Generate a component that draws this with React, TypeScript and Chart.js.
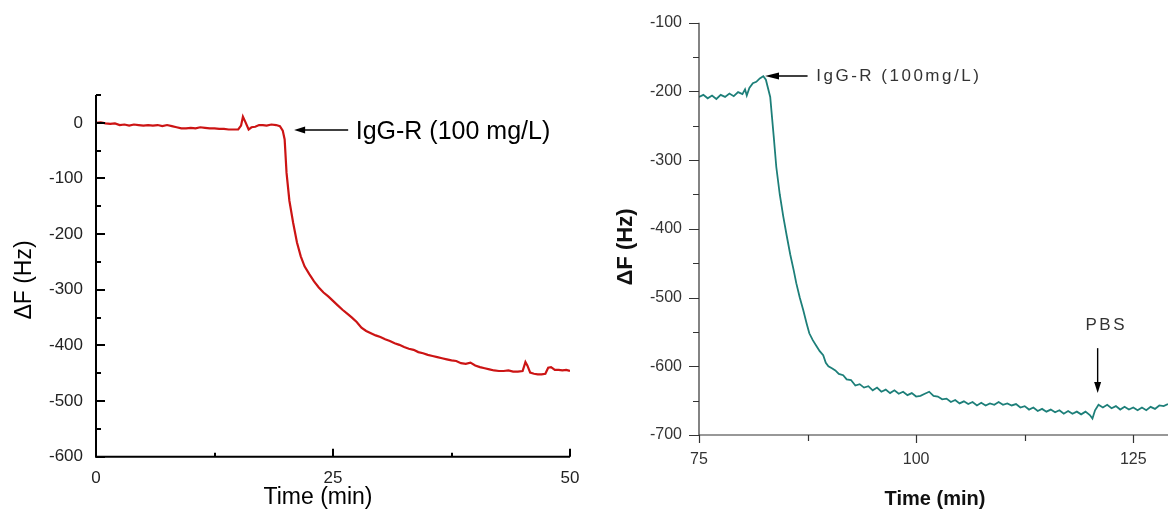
import React, { useEffect, useRef } from 'react';
import { Chart, registerables } from 'chart.js';
Chart.register(...registerables);

// ---------- Left panel data (red trace) ----------
const leftTime = [
  0, 0.5, 1, 1.5, 2, 2.5, 3, 3.5, 4, 4.5, 5, 5.5, 6, 6.5, 7, 7.5, 8, 8.5, 9, 9.5,
  10, 10.5, 11, 11.5, 12, 12.5, 13, 13.5, 14, 14.5, 15, 15.3, 15.5, 15.8, 16.1, 16.4, 16.8, 17.2, 17.6, 18,
  18.5, 19, 19.4, 19.7, 19.9, 20.1, 20.4, 20.8, 21.2, 21.6, 22, 22.5, 23, 23.5, 24, 24.5, 25, 25.5, 26, 26.5,
  27, 27.5, 28, 28.5, 29, 29.5, 30, 30.5, 31, 31.5, 32, 32.5, 33, 33.5, 34, 34.5, 35, 35.5, 36, 36.5,
  37, 37.5, 38, 38.5, 39, 39.5, 40, 40.5, 41, 41.5, 42, 42.5, 43, 43.5, 44, 44.5, 45, 45.3, 45.5, 45.8,
  46.2, 46.6, 47, 47.4, 47.7, 48, 48.4, 48.8, 49.2, 49.6, 50,
];
const leftDF = [
  0, 1, -1, -2, -1, -4, -3, -5, -3, -4, -5, -4, -5, -4, -6, -4, -6, -8, -10, -10,
  -9, -10, -8, -9, -10, -10, -11, -11, -12, -12, -12, -5, 11, 0, -12, -8, -7, -4, -4, -5,
  -3, -4, -6, -14, -30, -90, -140, -180, -215, -240, -258, -272, -285, -296, -305, -312, -320, -328, -336, -343,
  -350, -358, -368, -374, -378, -382, -385, -389, -392, -396, -399, -403, -406, -408, -412, -414, -417, -419, -421, -423,
  -425, -427, -428, -432, -433, -431, -436, -439, -441, -443, -445, -446, -446, -445, -447, -447, -446, -430, -436, -449,
  -451, -452, -452, -451, -440, -439, -444, -444, -445, -444, -446,
];

// ---------- Right panel data (teal trace) ----------
const rightTime = [
  75, 75.5, 76, 76.5, 77, 77.5, 78, 78.5, 79, 79.5, 80, 80.3, 80.5, 80.8, 81.2, 81.6, 82, 82.4, 82.7, 83.2,
  83.6, 83.9, 84.3, 84.7, 85.1, 85.5, 85.9, 86.2, 86.6, 87, 87.4, 87.7, 88.1, 88.5, 88.9, 89.3, 89.6, 89.9, 90.3, 90.7,
  91.1, 91.6, 92, 92.5, 93, 93.5, 94, 94.5, 95, 95.5, 96, 96.5, 97, 97.5, 98, 98.5, 99, 99.5, 100, 100.5,
  101, 101.5, 102, 102.5, 103, 103.5, 104, 104.5, 105, 105.5, 106, 106.5, 107, 107.5, 108, 108.5, 109, 109.5, 110, 110.5,
  111, 111.5, 112, 112.5, 113, 113.5, 114, 114.5, 115, 115.5, 116, 116.5, 117, 117.5, 118, 118.5, 119, 119.5, 120, 120.3,
  120.6, 121, 121.5, 122, 122.5, 123, 123.5, 124, 124.5, 125, 125.5, 126, 126.5, 127, 127.5, 128, 128.5, 129,
];
const rightDF = [
  -208, -205, -210, -206, -211, -205, -208, -203, -207, -201, -204, -197, -206, -195, -188, -186, -181, -178, -183, -208,
  -265, -310, -350, -382, -410, -437, -460, -479, -500, -518, -538, -552, -562, -570, -578, -584, -595, -600, -603, -606,
  -611, -613, -619, -620, -628, -626, -631, -629, -635, -631, -637, -634, -639, -635, -640, -637, -642, -639, -644, -643,
  -640, -637, -643, -644, -648, -647, -652, -649, -654, -651, -655, -652, -657, -653, -657, -654, -656, -652, -656, -654,
  -657, -655, -660, -658, -663, -660, -665, -662, -666, -663, -667, -664, -669, -665, -669, -666, -670, -666, -671, -676,
  -664, -656, -660, -656, -661, -658, -663, -659, -663, -660, -664, -660, -664, -659, -662, -657, -658, -655,
];

// ---------- Tick labels ----------
const leftXTicks = [0, 25, 50];
const leftYTicks = [-600, -500, -400, -300, -200, -100, 0];
const rightXTicks = [75, 100, 125];
const rightYTicks = [-700, -600, -500, -400, -300, -200, -100];

const FONT = '"Liberation Sans", Arial, sans-serif';

function arrowHead(ctx: CanvasRenderingContext2D, tx: number, ty: number, dir: 'left' | 'down', len: number, half: number) {
  ctx.beginPath();
  if (dir === 'left') {
    ctx.moveTo(tx, ty);
    ctx.lineTo(tx + len, ty - half);
    ctx.lineTo(tx + len, ty + half);
  } else {
    ctx.moveTo(tx, ty);
    ctx.lineTo(tx - half, ty - len);
    ctx.lineTo(tx + half, ty - len);
  }
  ctx.closePath();
  ctx.fill();
}

const leftDecor = {
  id: 'leftDecor',
  afterDraw(chart: any) {
    const { ctx, chartArea: a, scales } = chart;
    const x = scales.x, y = scales.y;
    ctx.save();
    ctx.strokeStyle = '#000';
    ctx.lineWidth = 2;
    ctx.beginPath();
    ctx.moveTo(a.left, a.top);
    ctx.lineTo(a.left, a.bottom);
    ctx.lineTo(a.right, a.bottom);
    for (let v = -600; v <= 50; v += 50) {
      const py = Math.round(y.getPixelForValue(v));
      const len = v % 100 === 0 ? 9 : 5;
      ctx.moveTo(a.left, py);
      ctx.lineTo(a.left + len, py);
    }
    for (let v = 0; v <= 50; v += 12.5) {
      const px = Math.round(x.getPixelForValue(v));
      const len = v % 25 === 0 ? 8 : 4;
      ctx.moveTo(px, a.bottom);
      ctx.lineTo(px, a.bottom - len);
    }
    ctx.stroke();

    // axis titles
    ctx.fillStyle = '#000';
    ctx.font = `23px ${FONT}`;
    ctx.textAlign = 'center';
    ctx.textBaseline = 'middle';
    ctx.fillText('Time (min)', 318, 498);
    ctx.save();
    ctx.translate(25, 280);
    ctx.rotate(-Math.PI / 2);
    ctx.fillText('\u0394F (Hz)', 0, 0);
    ctx.restore();

    // annotation
    const ay = y.getPixelForValue(-13);
    const tip = x.getPixelForValue(20.9);
    const tail = x.getPixelForValue(26.6);
    ctx.lineWidth = 1.5;
    ctx.beginPath();
    ctx.moveTo(tip + 6, ay);
    ctx.lineTo(tail, ay);
    ctx.stroke();
    arrowHead(ctx, tip, ay, 'left', 11, 3.5);
    ctx.font = `25px ${FONT}`;
    ctx.textAlign = 'left';
    ctx.fillText('IgG-R (100 mg/L)', x.getPixelForValue(27.4), ay + 2);
    ctx.restore();
  },
};

const rightDecor = {
  id: 'rightDecor',
  afterDraw(chart: any) {
    const { ctx, chartArea: a, scales } = chart;
    const x = scales.x, y = scales.y;
    ctx.save();
    ctx.strokeStyle = '#333';
    ctx.lineWidth = 1.2;
    ctx.beginPath();
    ctx.moveTo(a.left, a.top);
    ctx.lineTo(a.left, a.bottom);
    ctx.lineTo(a.right, a.bottom);
    for (let v = -700; v <= -100; v += 50) {
      const py = Math.round(y.getPixelForValue(v)) + 0.5;
      const len = v % 100 === 0 ? 10 : 6;
      ctx.moveTo(a.left, py);
      ctx.lineTo(a.left - len, py);
    }
    for (let v = 75; v <= 129; v += 12.5) {
      const px = Math.round(x.getPixelForValue(v)) + 0.5;
      const len = (v - 75) % 25 === 0 ? 8 : 6;
      ctx.moveTo(px, a.bottom);
      ctx.lineTo(px, a.bottom + len);
    }
    ctx.stroke();

    ctx.fillStyle = '#111';
    ctx.font = `bold 20px ${FONT}`;
    ctx.textAlign = 'center';
    ctx.textBaseline = 'middle';
    ctx.fillText('Time (min)', 351, 499);
    ctx.save();
    ctx.translate(42, 247);
    ctx.rotate(-Math.PI / 2);
    ctx.font = `bold 22px ${FONT}`;
    ctx.fillText('\u0394F (Hz)', 0, 0);
    ctx.restore();

    // IgG-R annotation
    ctx.fillStyle = '#000';
    ctx.strokeStyle = '#000';
    ctx.lineWidth = 1.4;
    const ay = y.getPixelForValue(-177.6);
    const tip = x.getPixelForValue(82.6);
    const tail = x.getPixelForValue(87.5);
    ctx.beginPath();
    ctx.moveTo(tip + 8, ay);
    ctx.lineTo(tail, ay);
    ctx.stroke();
    arrowHead(ctx, tip, ay, 'left', 14, 3.5);
    ctx.fillStyle = '#333';
    ctx.font = `17px ${FONT}`;
    ctx.textAlign = 'left';
    (ctx as any).letterSpacing = '2.5px';
    ctx.fillText('IgG-R (100mg/L)', x.getPixelForValue(88.5), ay);

    // PBS annotation
    ctx.fillText('PBS', x.getPixelForValue(119.5), y.getPixelForValue(-540));
    (ctx as any).letterSpacing = '0px';
    ctx.fillStyle = '#000';
    const px = x.getPixelForValue(120.9);
    const top = y.getPixelForValue(-573.6);
    const bot = y.getPixelForValue(-639);
    ctx.beginPath();
    ctx.moveTo(px, top);
    ctx.lineTo(px, bot - 8);
    ctx.stroke();
    arrowHead(ctx, px, bot, 'down', 11, 3.5);
    ctx.restore();
  },
};

function makeTicks(values: number[]) {
  return (scale: any) => {
    scale.ticks = values.map((v) => ({ value: v }));
  };
}

function fitX(h: number) {
  return (s: any) => {
    s.height = h;
    s.paddingLeft = 0;
    s.paddingRight = 0;
  };
}

function fitY(w: number) {
  return (s: any) => {
    s.width = w;
    s.paddingTop = 0;
    s.paddingBottom = 0;
  };
}

export default function App() {
  const leftRef = useRef<HTMLCanvasElement>(null);
  const rightRef = useRef<HTMLCanvasElement>(null);

  useEffect(() => {
    const left = new Chart(leftRef.current!, {
      type: 'line',
      data: {
        datasets: [
          {
            data: leftTime.map((t, i) => ({ x: t, y: leftDF[i] })),
            borderColor: '#cc1414',
            borderWidth: 2.2,
            pointRadius: 0,
            tension: 0,
            fill: false,
          },
        ],
      },
      options: {
        animation: false,
        responsive: false,
        maintainAspectRatio: false,
        layout: { padding: { left: 0, right: 14, top: 95, bottom: 0 } },
        plugins: { legend: { display: false }, tooltip: { enabled: false } },
        scales: {
          x: {
            type: 'linear',
            min: 0,
            max: 50,
            afterBuildTicks: makeTicks(leftXTicks),
            afterFit: fitX(55.3),
            grid: { display: false, drawTicks: false },
            border: { display: false },
            ticks: { padding: 11, color: '#222', font: { family: FONT, size: 17 }, maxRotation: 0 },
          },
          y: {
            min: -600,
            max: 50,
            afterBuildTicks: makeTicks(leftYTicks),
            afterFit: fitY(96),
            grid: { display: false, drawTicks: false },
            border: { display: false },
            ticks: { padding: 13, color: '#222', font: { family: FONT, size: 17 } },
          },
        },
      },
      plugins: [leftDecor],
    } as any);

    const right = new Chart(rightRef.current!, {
      type: 'line',
      data: {
        datasets: [
          {
            data: rightTime.map((t, i) => ({ x: t, y: rightDF[i] })),
            borderColor: '#1d7f79',
            borderWidth: 1.8,
            pointRadius: 0,
            tension: 0,
            fill: false,
          },
        ],
      },
      options: {
        animation: false,
        responsive: false,
        maintainAspectRatio: false,
        layout: { padding: { left: 0, right: 0, top: 22.7, bottom: 0 } },
        plugins: { legend: { display: false }, tooltip: { enabled: false } },
        scales: {
          x: {
            type: 'linear',
            min: 75,
            max: 129,
            afterBuildTicks: makeTicks(rightXTicks),
            afterFit: fitX(77),
            grid: { display: false, drawTicks: false },
            border: { display: false },
            ticks: { padding: 15, color: '#333', font: { family: FONT, size: 16 }, maxRotation: 0 },
          },
          y: {
            min: -700,
            max: -100,
            afterBuildTicks: makeTicks(rightYTicks),
            afterFit: fitY(115),
            grid: { display: false, drawTicks: false },
            border: { display: false },
            ticks: { padding: 17, color: '#333', font: { family: FONT, size: 16 } },
          },
        },
      },
      plugins: [rightDecor],
    } as any);

    return () => {
      left.destroy();
      right.destroy();
    };
  }, []);

  return (
    <div style={{ position: 'fixed', left: 0, top: 0, width: 1168, height: 512, background: '#fff' }}>
      <canvas ref={leftRef} width={584} height={512} style={{ position: 'absolute', left: 0, top: 0 }} />
      <canvas ref={rightRef} width={584} height={512} style={{ position: 'absolute', left: 584, top: 0 }} />
    </div>
  );
}
